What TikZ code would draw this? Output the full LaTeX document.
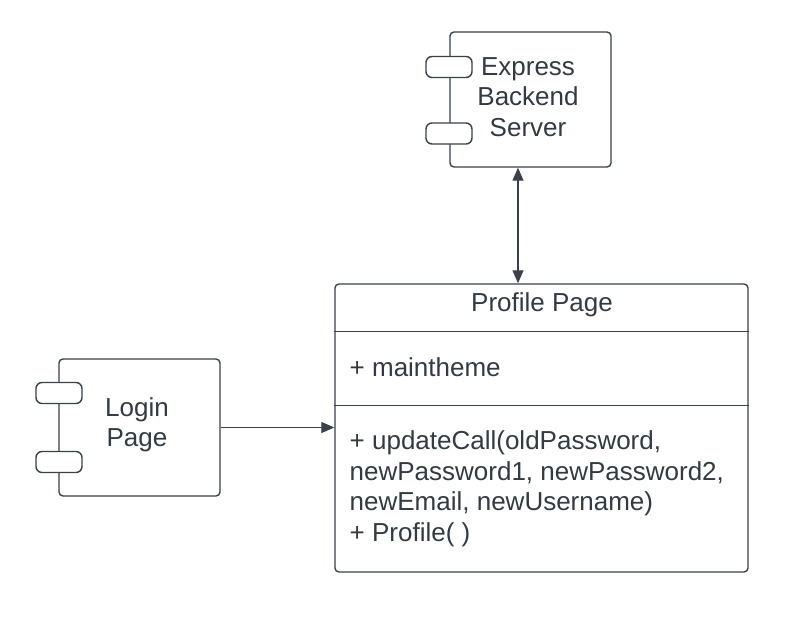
\documentclass[tikz,border=0pt]{standalone}
\usepackage{fontspec}
\setmainfont{Liberation Sans}
\usetikzlibrary{arrows.meta}
\definecolor{linegray}{HTML}{3A414A}
\definecolor{textgray}{HTML}{333A42}
\begin{document}
\begin{tikzpicture}[x=1pt,y=-1pt,>={Triangle[length=13pt,width=11pt]},
    line width=1.4pt,color=linegray,
    comp/.style={draw,rounded corners=4pt,fill=white},
    tab/.style={draw,rounded corners=6pt,fill=white,minimum width=46pt,minimum height=21pt,inner sep=0pt},
    lbl/.style={text=textgray,font=\fontsize{26}{30.5}\selectfont,inner sep=0pt}]
    \useasboundingbox (0,0) rectangle (786,626);
    % components
    \node[comp,minimum width=161pt,minimum height=135pt] (express) at (530.5,99.5) {};
    \node[tab] (exptabA) at (449,67) {};
    \node[tab] (exptabB) at (449,133.5) {};
    \node[lbl,align=center] (exptxt) at (528,97) {Express\\Backend\\Server};
    \node[comp,minimum width=161pt,minimum height=137pt] (login) at (139.5,427.5) {};
    \node[tab] (logtabA) at (59,393) {};
    \node[tab] (logtabB) at (59,462) {};
    \node[lbl,align=center] (logtxt) at (137,425) {Login\\Page};
    % class box
    \node[comp,minimum width=413pt,minimum height=288pt] (profile) at (541.5,428) {};
    \draw ([yshift=-48pt]profile.north west) -- ([yshift=-48pt]profile.north east);
    \draw ([yshift=-122pt]profile.north west) -- ([yshift=-122pt]profile.north east);
    \node[lbl] (title) at (542,305) {Profile Page};
    \node[lbl,anchor=west] (attr) at (349,367) {+ maintheme};
    \node[lbl,anchor=north west,align=left] (ops) at (349,430)
        {+ updateCall(oldPassword,\\newPassword1, newPassword2,\\newEmail, newUsername)\\+ Profile( )};
    % connectors
    \draw[<->,line width=1.2pt] ([xshift=-12.5pt]express.south) coordinate (expbot) -- (expbot |- profile.north);
    \draw[->,line width=1.2pt] (login.east) -- (login.east -| profile.west);
\end{tikzpicture}
\end{document}
